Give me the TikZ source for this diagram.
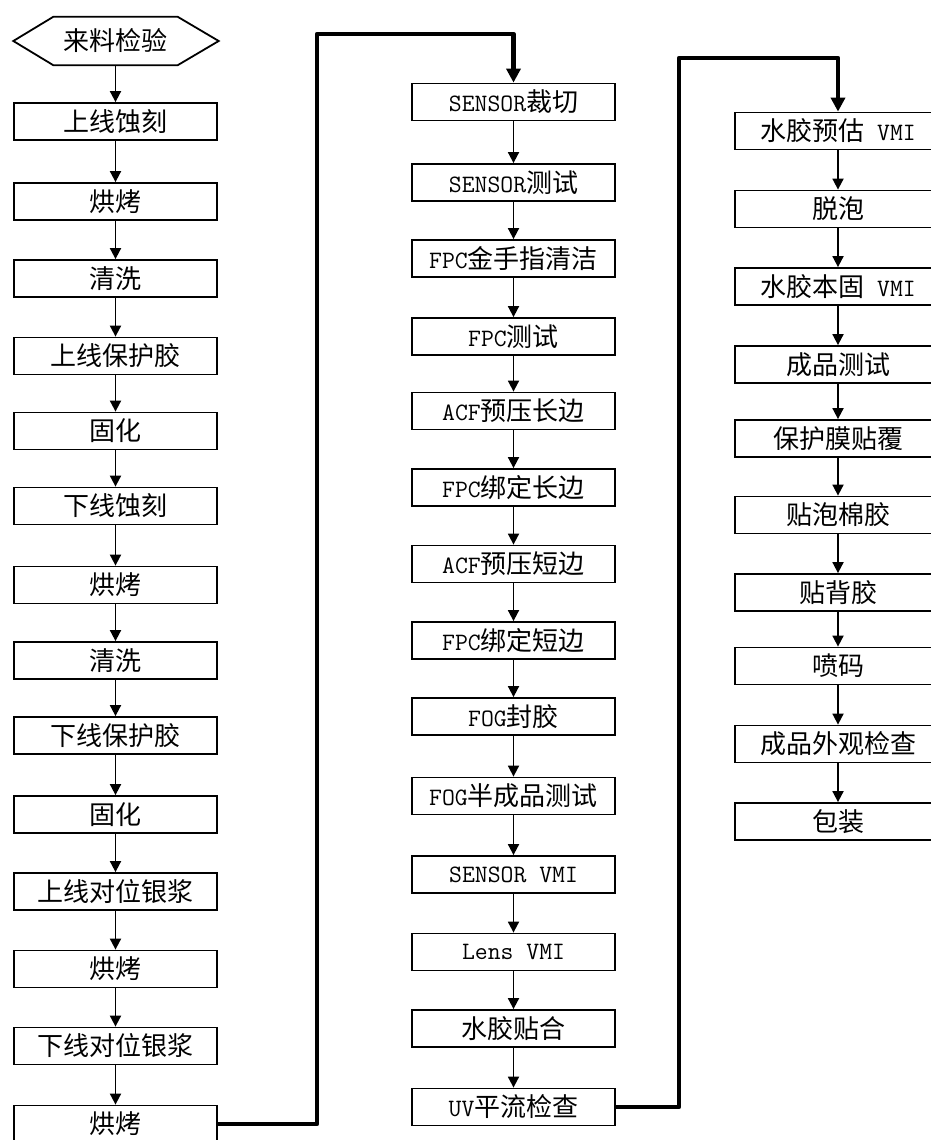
\documentclass[tikz,border=0pt]{standalone}
\usepackage{fontspec}
\newfontfamily\cjk{Noto Sans CJK SC}
\usetikzlibrary{arrows.meta}
\newcommand\lt[1]{{\ttfamily\fontsize{25pt}{25pt}\selectfont #1}}
\begin{document}
\begin{tikzpicture}[x=1pt,y=-1pt,
  stepbox/.style={draw, line width=1.8pt, minimum width=203pt, minimum height=37pt, inner sep=0pt,
    font=\cjk\fontsize{26pt}{26pt}\selectfont},
  widebox/.style={stepbox, minimum width=206pt},
  arr/.style={line width=1.8pt, -{Triangle[length=11pt,width=11pt]}},
  fat/.style={line width=4.5pt, line join=round, -{Triangle[length=14pt,width=14pt]}}]
\useasboundingbox (0,0) rectangle (931,1140);
\fill[white] (0,0) rectangle (931,1140);

% column 1
\node[font=\cjk\fontsize{26pt}{26pt}\selectfont, minimum width=124pt, minimum height=48pt, inner sep=0pt] (h) at (115.5,41) {来料检验};
\draw[line width=1.8pt] (h.north west) -- (h.north east) -- ([xshift=41pt]h.east) -- (h.south east) -- (h.south west) -- ([xshift=-40pt]h.west) -- cycle;
\node[stepbox] (a1)  at (115.5,121.5) {上线蚀刻};
\node[stepbox] (a2)  at (115.5,201.5) {烘烤};
\node[stepbox] (a3)  at (115.5,278.5) {清洗};
\node[stepbox] (a4)  at (115.5,356) {上线保护胶};
\node[stepbox] (a5)  at (115.5,431) {固化};
\node[stepbox] (a6)  at (115.5,506) {下线蚀刻};
\node[stepbox] (a7)  at (115.5,585) {烘烤};
\node[stepbox] (a8)  at (115.5,660.5) {清洗};
\node[stepbox] (a9)  at (115.5,735.5) {下线保护胶};
\node[stepbox] (a10) at (115.5,814.5) {固化};
\node[stepbox] (a11) at (115.5,891.5) {上线对位银浆};
\node[stepbox] (a12) at (115.5,969) {烘烤};
\node[stepbox] (a13) at (115.5,1046) {下线对位银浆};
\node[stepbox] (a14) at (115.5,1124) {烘烤};

% column 2
\node[stepbox] (b1)  at (513.5,102) {\lt{SENSOR}裁切};
\node[stepbox] (b2)  at (513.5,182.5) {\lt{SENSOR}测试};
\node[stepbox] (b3)  at (513.5,258.5) {\lt{FPC}金手指清洁};
\node[stepbox] (b4)  at (513.5,336.5) {\lt{FPC}测试};
\node[stepbox] (b5)  at (513.5,411) {\lt{ACF}预压长边};
\node[stepbox] (b6)  at (513.5,487.5) {\lt{FPC}绑定长边};
\node[stepbox] (b7)  at (513.5,564) {\lt{ACF}预压短边};
\node[stepbox] (b8)  at (513.5,640.5) {\lt{FPC}绑定短边};
\node[stepbox] (b9)  at (513.5,716.5) {\lt{FOG}封胶};
\node[stepbox] (b10) at (513.5,796) {\lt{FOG}半成品测试};
\node[stepbox] (b11) at (513.5,874.5) {\lt{SENSOR VMI}};
\node[stepbox] (b12) at (513.5,952) {\lt{Lens VMI}};
\node[stepbox] (b13) at (513.5,1028.5) {水胶贴合};
\node[stepbox] (b14) at (513.5,1107) {\lt{UV}平流检查};

% column 3
\node[widebox] (c1)  at (838,131) {水胶预估\lt{ VMI}};
\node[widebox] (c2)  at (838,209) {脱泡};
\node[widebox] (c3)  at (838,286.5) {水胶本固\lt{ VMI}};
\node[widebox] (c4)  at (838,364.5) {成品测试};
\node[widebox] (c5)  at (838,438.5) {保护膜贴覆};
\node[widebox] (c6)  at (838,515) {贴泡棉胶};
\node[widebox] (c7)  at (838,592.5) {贴背胶};
\node[widebox] (c8)  at (838,666) {喷码};
\node[widebox] (c9)  at (838,744) {成品外观检查};
\node[widebox] (c10) at (838,821.5) {包装};

% arrows column 1
\draw[arr] (h) -- (a1);
\foreach \i [evaluate=\i as \j using int(\i+1)] in {1,...,13} {\draw[arr] (a\i) -- (a\j);}
\foreach \i [evaluate=\i as \j using int(\i+1)] in {1,...,13} {\draw[arr] (b\i) -- (b\j);}
\foreach \i [evaluate=\i as \j using int(\i+1)] in {1,...,9} {\draw[arr] (c\i) -- (c\j);}

% long connectors
\coordinate (k1) at (317,34);
\coordinate (k2) at (679,58);
\draw[fat] (a14.east) -| (k1) -| (b1.north);
\draw[fat] (b14.east) -| (k2) -| (c1.north);
\end{tikzpicture}
\end{document}
